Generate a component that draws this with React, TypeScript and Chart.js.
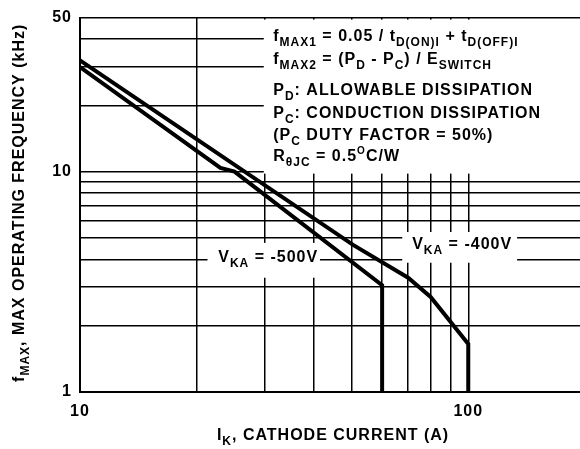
import React, { useEffect, useRef } from "react";
import { Chart, registerables } from "chart.js";

Chart.register(...registerables);

// ---- data ----
const currentA_500V = [10, 23, 25, 60, 60];
const freqKHz_500V = [29.8, 10.4, 10.0, 3.05, 1];

const currentA_400V = [10, 50.5, 70, 80, 100, 100];
const freqKHz_400V = [32, 4.65, 3.3, 2.7, 1.65, 1];

const xGridValues = [10, 20, 30, 40, 50, 60, 70, 80, 90, 100];
const yGridValues = [1, 2, 3, 4, 5, 6, 7, 8, 9, 10, 20, 30, 40, 50];
const xTickLabels = [10, 100];
const yTickLabels = [1, 10, 50];

const X_MIN = 10;
const X_MAX = 194;
const Y_MIN = 1;
const Y_MAX = 50;

const FONT = '"Liberation Sans", Arial, Helvetica, sans-serif';

type Seg = { t: string; s?: "sub" | "sup" };

const annotationLines: Seg[][] = [
  [{ t: "f" }, { t: "MAX1", s: "sub" }, { t: " = 0.05 / t" }, { t: "D(ON)I", s: "sub" }, { t: " + t" }, { t: "D(OFF)I", s: "sub" }],
  [{ t: "f" }, { t: "MAX2", s: "sub" }, { t: " = (P" }, { t: "D", s: "sub" }, { t: " - P" }, { t: "C", s: "sub" }, { t: ") / E" }, { t: "SWITCH", s: "sub" }],
  [{ t: "P" }, { t: "D", s: "sub" }, { t: ": ALLOWABLE DISSIPATION" }],
  [{ t: "P" }, { t: "C", s: "sub" }, { t: ": CONDUCTION DISSIPATION" }],
  [{ t: "(P" }, { t: "C", s: "sub" }, { t: " DUTY FACTOR = 50%)" }],
  [{ t: "R" }, { t: "θJC", s: "sub" }, { t: " = 0.5" }, { t: "O", s: "sup" }, { t: "C/W" }],
];
const annotationBaselines = [23, 46, 77, 100, 122, 143];

const label500: Seg[] = [{ t: "V" }, { t: "KA", s: "sub" }, { t: " = -500V" }];
const label400: Seg[] = [{ t: "V" }, { t: "KA", s: "sub" }, { t: " = -400V" }];
const xTitle: Seg[] = [{ t: "I" }, { t: "K", s: "sub" }, { t: ", CATHODE CURRENT (A)" }];
const yTitle: Seg[] = [{ t: "f" }, { t: "MAX", s: "sub" }, { t: ", MAX OPERATING FREQUENCY (kHz)" }];

function segFont(s?: "sub" | "sup") {
  if (s === "sub") return `bold 12px ${FONT}`;
  if (s === "sup") return `bold 10px ${FONT}`;
  return `bold 16px ${FONT}`;
}
function segOffset(s?: "sub" | "sup") {
  if (s === "sub") return 5;
  if (s === "sup") return -7;
  return 0;
}

function drawRich(ctx: CanvasRenderingContext2D, segs: Seg[], x: number, y: number, align: "left" | "center") {
  ctx.save();
  (ctx as any).letterSpacing = "1px";
  ctx.textAlign = "left";
  ctx.textBaseline = "alphabetic";
  ctx.fillStyle = "#000";
  let w = 0;
  for (const sg of segs) {
    ctx.font = segFont(sg.s);
    w += ctx.measureText(sg.t).width;
  }
  let cx = align === "center" ? x - w / 2 : x;
  for (const sg of segs) {
    ctx.font = segFont(sg.s);
    ctx.fillText(sg.t, cx, y + segOffset(sg.s));
    cx += ctx.measureText(sg.t).width;
  }
  ctx.restore();
}

const annotatePlugin = {
  id: "annotate",
  beforeDraw(chart: any) {
    (chart.ctx as any).letterSpacing = "1px";
  },
  beforeDatasetsDraw(chart: any) {
    const ctx: CanvasRenderingContext2D = chart.ctx;
    const xs = chart.scales.x;
    const ys = chart.scales.y;
    const area = chart.chartArea;
    ctx.save();
    ctx.fillStyle = "#fff";
    // formula box
    const bx = xs.getPixelForValue(30) - 1.5;
    const by = area.top + 2;
    ctx.fillRect(bx, by, area.right - bx + 2, ys.getPixelForValue(10) + 2 - by);
    // -500V label box
    const l5x1 = xs.getPixelForValue(21.3), l5x2 = xs.getPixelForValue(41.5);
    const l5y1 = ys.getPixelForValue(4.75), l5y2 = ys.getPixelForValue(3.3);
    ctx.fillRect(l5x1, l5y1, l5x2 - l5x1, l5y2 - l5y1);
    // -400V label box
    const l4x1 = xs.getPixelForValue(67.6), l4x2 = xs.getPixelForValue(133.6);
    const l4y1 = ys.getPixelForValue(5.32), l4y2 = ys.getPixelForValue(3.86);
    ctx.fillRect(l4x1, l4y1, l4x2 - l4x1, l4y2 - l4y1);
    ctx.restore();

    const tx = xs.getPixelForValue(30) + 8;
    annotationLines.forEach((line, i) => drawRich(ctx, line, tx, area.top + annotationBaselines[i], "left"));

    drawRich(ctx, label500, xs.getPixelForValue(22.7), ys.getPixelForValue(3.9), "left");
    drawRich(ctx, label400, xs.getPixelForValue(71.7), ys.getPixelForValue(4.46), "left");
  },
  afterDraw(chart: any) {
    const ctx: CanvasRenderingContext2D = chart.ctx;
    const area = chart.chartArea;
    drawRich(ctx, xTitle, (area.left + area.right) / 2 + 3, area.bottom + 48, "center");
    ctx.save();
    ctx.translate(24, (area.top + area.bottom) / 2 - 2);
    ctx.rotate(-Math.PI / 2);
    drawRich(ctx, yTitle, 0, 0, "center");
    ctx.restore();
  },
};

export default function App() {
  const ref = useRef<HTMLCanvasElement>(null);
  useEffect(() => {
    document.body.style.margin = "0";
    const canvas = ref.current!;
    const tickFont = { family: FONT, size: 16, weight: "bold" as const };
    const chart = new Chart(canvas, {
      type: "line",
      data: {
        datasets: [
          {
            label: "VKA = -500V",
            data: currentA_500V.map((x, i) => ({ x, y: freqKHz_500V[i] })),
            borderColor: "#000",
            borderWidth: 4,
            pointRadius: 0,
            tension: 0,
            fill: false,
            borderJoinStyle: "miter",
          },
          {
            label: "VKA = -400V",
            data: currentA_400V.map((x, i) => ({ x, y: freqKHz_400V[i] })),
            borderColor: "#000",
            borderWidth: 4,
            pointRadius: 0,
            tension: 0,
            fill: false,
            borderJoinStyle: "miter",
          },
        ],
      },
      options: {
        responsive: false,
        animation: false,
        devicePixelRatio: 1,
        layout: { padding: { top: 15, right: 0, bottom: 0, left: 0 } },
        plugins: { legend: { display: false }, tooltip: { enabled: false } },
        scales: {
          x: {
            type: "logarithmic",
            min: X_MIN,
            max: X_MAX,
            afterBuildTicks: (s: any) => {
              s.ticks = xGridValues.map((v) => ({ value: v }));
            },
            afterFit: (s: any) => {
              s.height = 57;
            },
            ticks: {
              autoSkip: false,
              maxRotation: 0,
              padding: 10,
              color: "#000",
              font: tickFont,
              callback: (v: any) => (xTickLabels.includes(Number(v)) ? String(v) : ""),
            },
            grid: { color: "#000", lineWidth: 1.5, drawTicks: false },
            border: { display: true, color: "#000", width: 2 },
          },
          y: {
            type: "logarithmic",
            min: Y_MIN,
            max: Y_MAX,
            afterBuildTicks: (s: any) => {
              s.ticks = yGridValues.map((v) => ({ value: v }));
            },
            afterFit: (s: any) => {
              s.width = 80;
            },
            ticks: {
              autoSkip: false,
              padding: 8,
              color: "#000",
              font: tickFont,
              callback: (v: any) => (yTickLabels.includes(Number(v)) ? String(v) : ""),
            },
            grid: { color: "#000", lineWidth: 1.5, drawTicks: false },
            border: { display: true, color: "#000", width: 2 },
          },
        },
      },
      plugins: [annotatePlugin],
    } as any);
    return () => chart.destroy();
  }, []);
  return (
    <div style={{ width: 580, height: 449 }}>
      <canvas ref={ref} width={580} height={449} style={{ display: "block", width: 580, height: 449 }} />
    </div>
  );
}
